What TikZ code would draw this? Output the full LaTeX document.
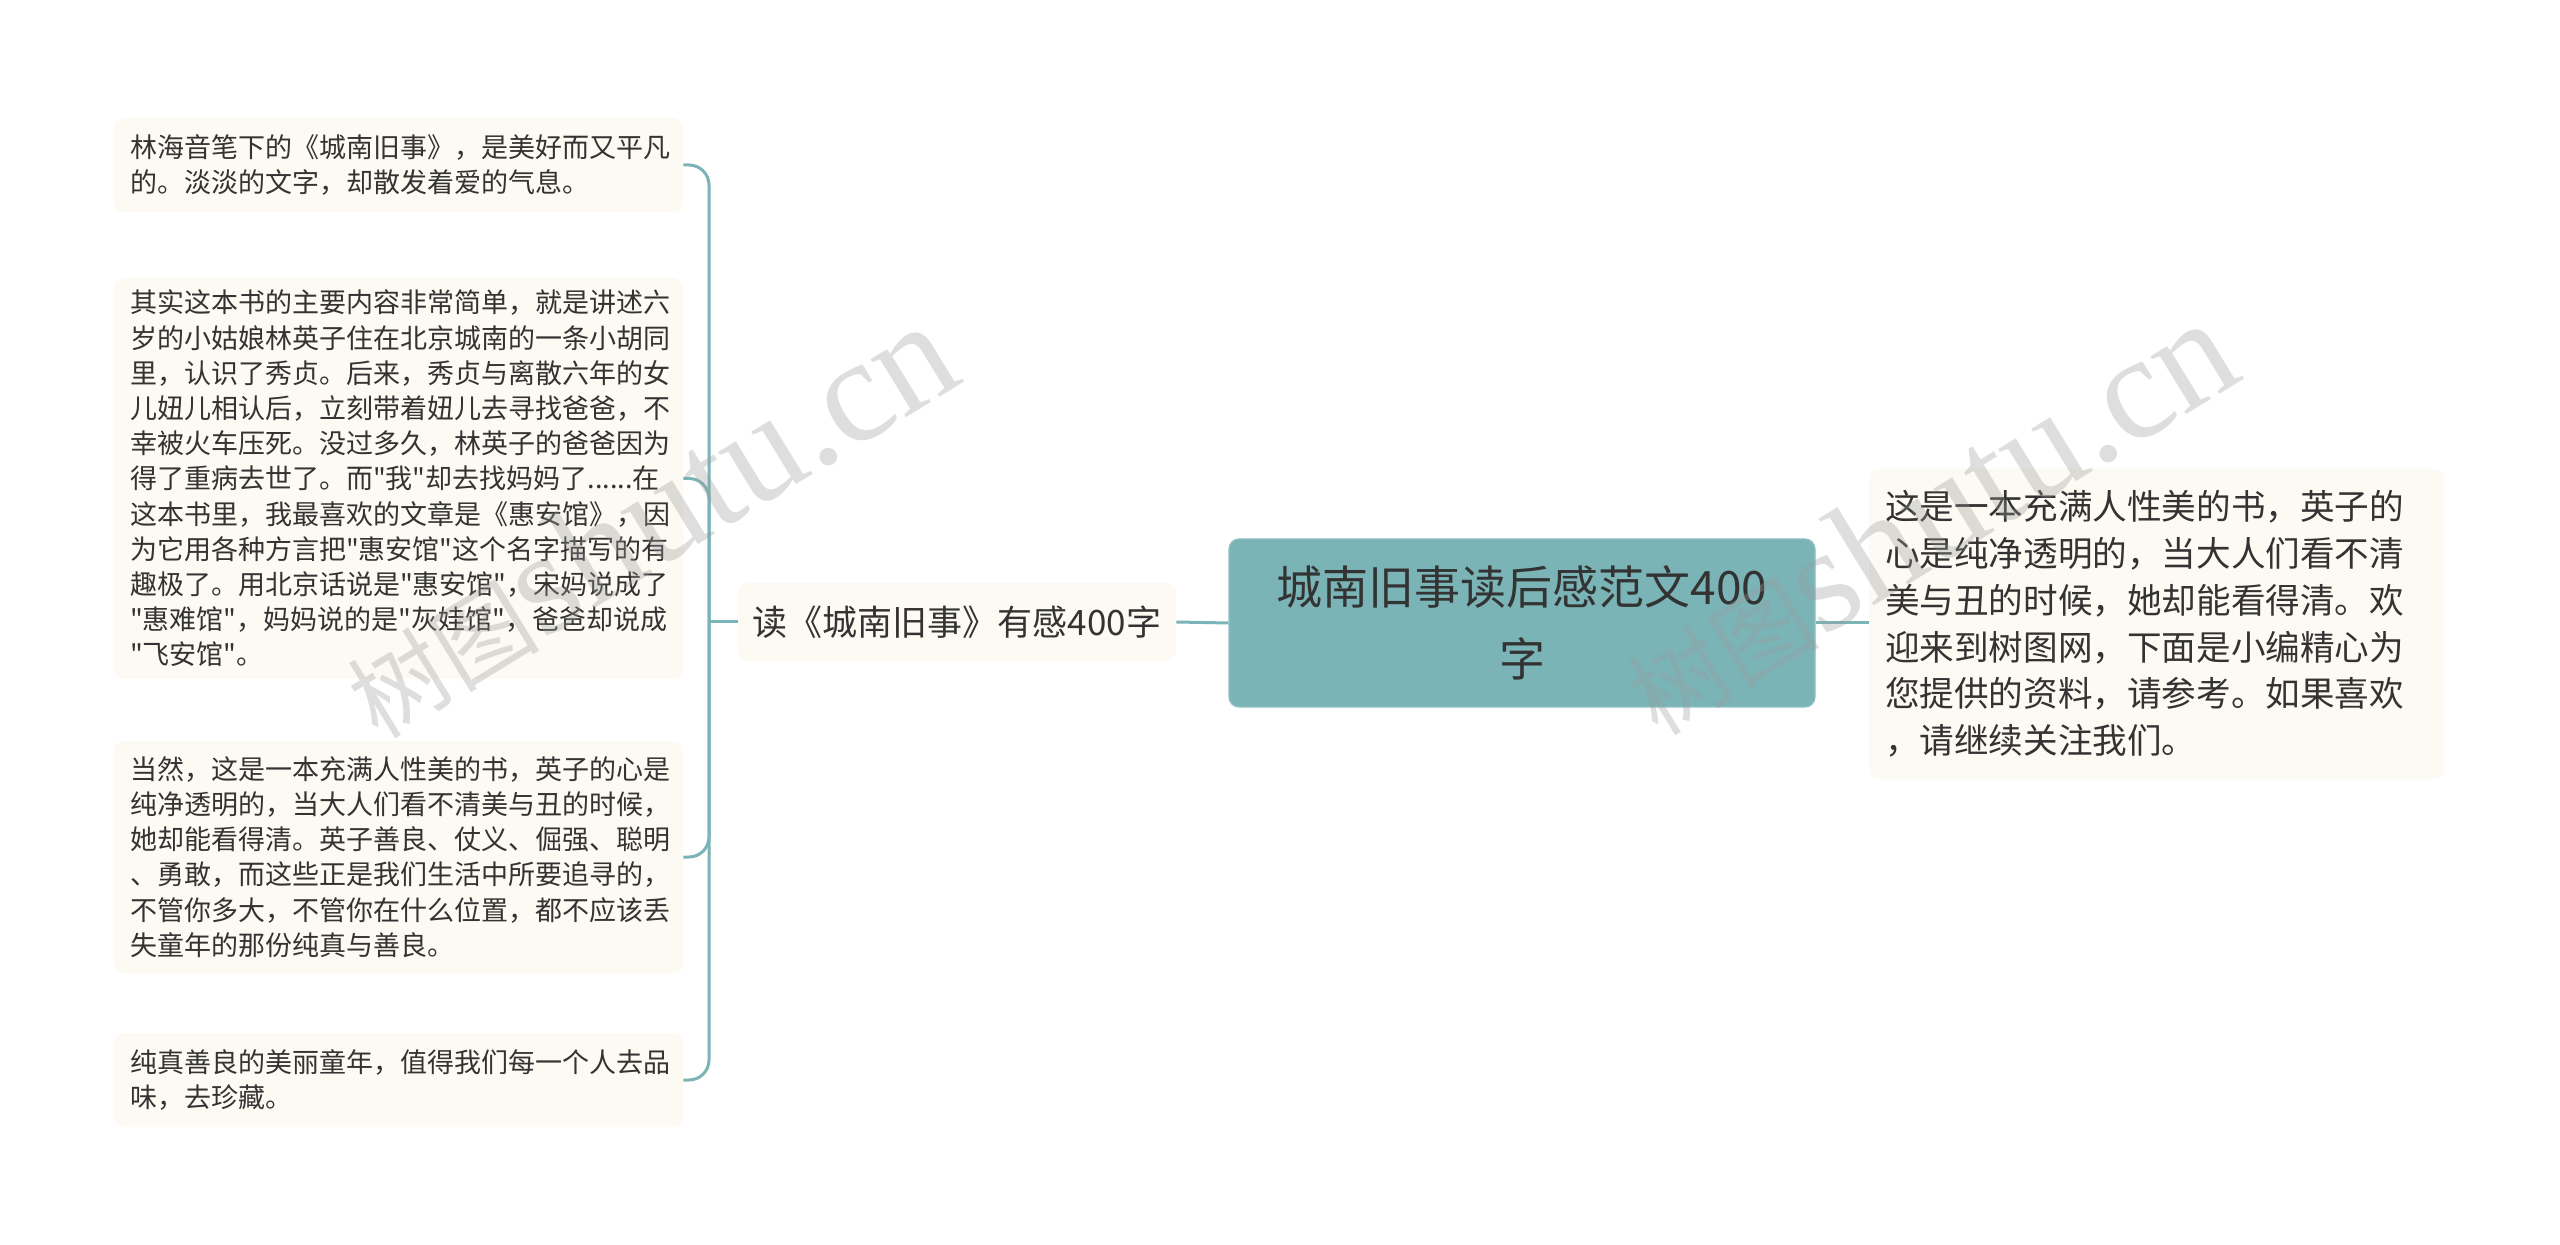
\documentclass[tikz,border=0pt]{standalone}
\usepackage{fontspec}
\setmainfont{Noto Sans CJK SC}[Ligatures=TeXOff]
\newfontfamily\wmlatin{Liberation Serif}
\definecolor{tealc}{HTML}{7BB4B7}
\definecolor{tealline}{HTML}{7BB4B7}
\definecolor{cream}{HTML}{FCFAF2}
\definecolor{txt}{HTML}{333333}
\tikzset{
  conn/.style={draw=tealline, line width=1.5pt},
  leaf/.style={fill=cream, rounded corners=5pt, text=txt, align=left,
    inner xsep=8pt, text width=268.5pt,
    font=\fontsize{13.5pt}{17.6pt}\selectfont},
  rightleaf/.style={fill=cream, rounded corners=5pt, text=txt, align=left,
    inner xsep=8pt, text width=271.5pt,
    font=\fontsize{17.3pt}{23.4pt}\selectfont},
  midbox/.style={fill=cream, rounded corners=5pt, text=txt, align=center,
    minimum width=219pt, minimum height=39pt, inner sep=0pt,
    font=\fontsize{17.5pt}{20pt}\selectfont},
  rootbox/.style={fill=tealc, draw=tealc!85!white, line width=0.6pt, rounded corners=5pt, text=txt, align=center,
    minimum width=293pt, minimum height=84pt, inner sep=0pt,
    font=\fontsize{23pt}{36pt}\selectfont},
  wm/.style={text=black!40, opacity=0.32, inner sep=0pt, anchor=center}
}
\begin{document}
\begin{tikzpicture}[x=0.5pt,y=-0.5pt]
\useasboundingbox[fill=white] (0,0) rectangle (2560,1245);

% nodes
\node[rootbox] (root) at (1522,623) {城南旧事读后感范文400\\字};
\node[midbox] (mid) at (957,622) {读《城南旧事》有感400字};
\node[rightleaf, minimum height=155pt] (r1) at (2156.5,624) {这是一本充满人性美的书，英子的\\心是纯净透明的，当大人们看不清\\美与丑的时候，她却能看得清。欢\\迎来到树图网，下面是小编精心为\\您提供的资料，请参考。如果喜欢\\，请继续关注我们。};

\node[leaf, minimum height=47pt] (l1) at (398.5,165) {林海音笔下的《城南旧事》，是美好而又平凡\\的。淡淡的文字，却散发着爱的气息。};
\node[leaf, minimum height=200.5pt] (l2) at (398.5,478.5) {其实这本书的主要内容非常简单，就是讲述六\\岁的小姑娘林英子住在北京城南的一条小胡同\\里，认识了秀贞。后来，秀贞与离散六年的女\\儿妞儿相认后，立刻带着妞儿去寻找爸爸，不\\幸被火车压死。没过多久，林英子的爸爸因为\\得了重病去世了。而"我"却去找妈妈了......在\\这本书里，我最喜欢的文章是《惠安馆》，因\\为它用各种方言把"惠安馆"这个名字描写的有\\趣极了。用北京话说是"惠安馆"，宋妈说成了\\"惠难馆"，妈妈说的是"灰娃馆"，爸爸却说成\\"飞安馆"。};
\node[leaf, minimum height=116pt] (l3) at (398.5,857) {当然，这是一本充满人性美的书，英子的心是\\纯净透明的，当大人们看不清美与丑的时候，\\她却能看得清。英子善良、仗义、倔强、聪明\\、勇敢，而这些正是我们生活中所要追寻的，\\不管你多大，不管你在什么位置，都不应该丢\\失童年的那份纯真与善良。};
\node[leaf, minimum height=47pt] (l4) at (398.5,1080) {纯真善良的美丽童年，值得我们每一个人去品\\味，去珍藏。};

% connectors
\coordinate (hub) at (709,622);
\draw[conn] (root.west) -- (mid.east);
\draw[conn] (root.east) -- (r1.west |- root.east);
\draw[conn] (mid.west) -- (hub);
\foreach \n in {l1,l2,l3,l4}{
  \draw[conn, rounded corners=10pt] (hub) |- (\n.east);
}

% watermarks
\node[wm, rotate=31.5] (wm1) at (648,520) {\fontsize{48pt}{48pt}\selectfont 树图{\wmlatin\fontsize{74pt}{74pt}\selectfont shutu.cn}};
\node[wm, rotate=31.5] (wm2) at (1928,517) {\fontsize{48pt}{48pt}\selectfont 树图{\wmlatin\fontsize{74pt}{74pt}\selectfont shutu.cn}};
\end{tikzpicture}
\end{document}
